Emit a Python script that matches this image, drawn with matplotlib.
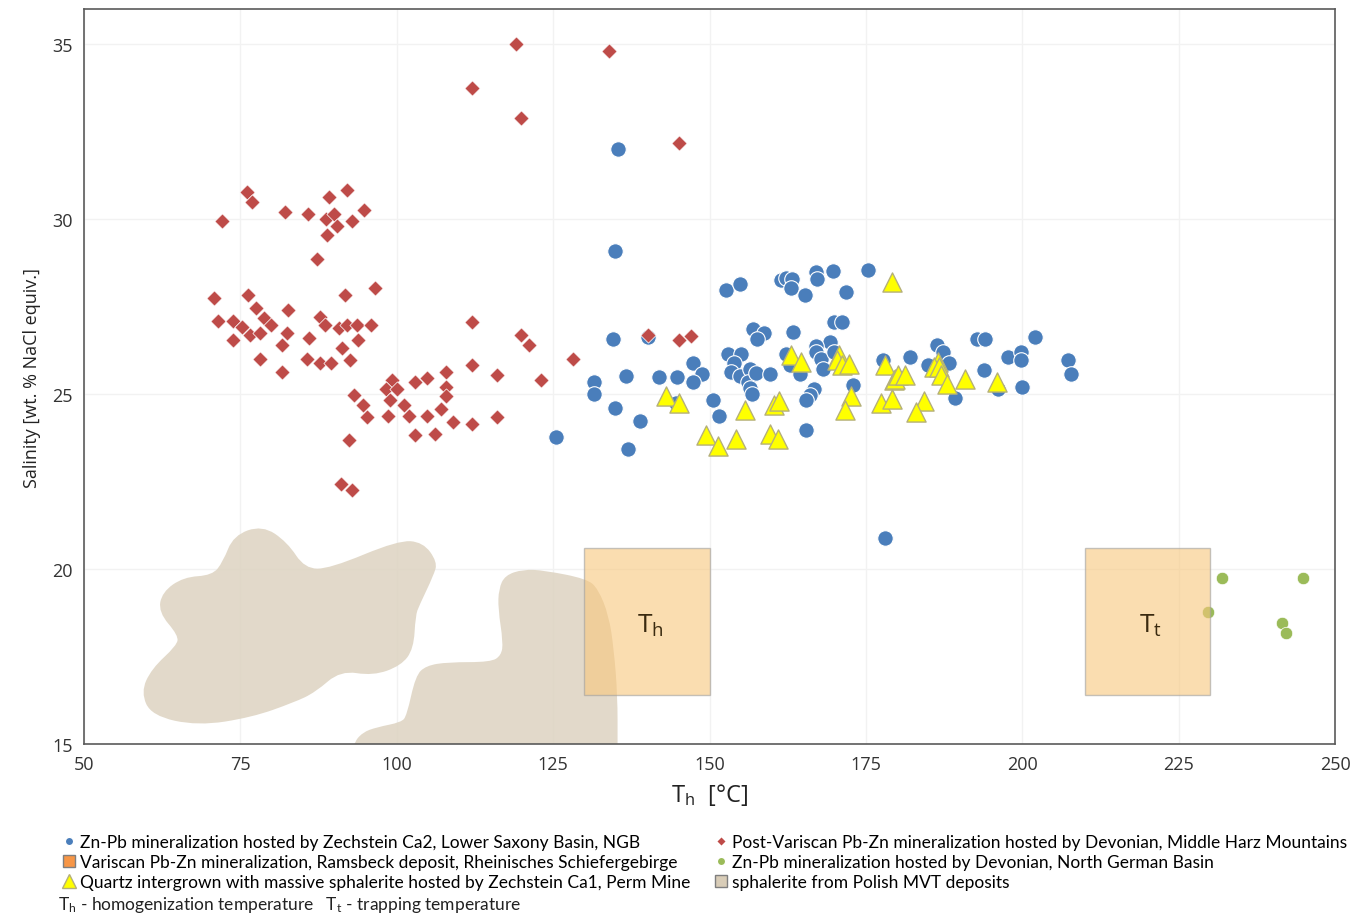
import numpy as np
import matplotlib
matplotlib.use("Agg")
import matplotlib.pyplot as plt
from matplotlib.path import Path
from matplotlib.patches import PathPatch, Rectangle
from matplotlib.lines import Line2D

plt.rcParams['font.family'] = ['Open Sans', 'DejaVu Sans']
plt.rcParams['mathtext.default'] = 'regular'

# Post-Variscan Pb-Zn, Middle Harz Mountains (Th, salinity)
harz_th = [76.0, 76.9, 72.1, 82.1, 85.8, 89.1, 92.1, 88.7, 90.0, 90.4, 92.8, 94.8, 88.8, 87.2,
           70.8, 76.3, 91.7, 96.5, 77.5, 82.6, 71.4, 73.9, 75.3, 78.8, 79.9, 87.8, 88.6, 90.7,
           92.1, 93.7, 95.9, 76.5, 78.2, 82.5, 73.8, 86.0, 93.8, 81.7, 91.3, 78.1, 85.7, 87.8,
           89.5, 92.6, 81.7, 112.0, 119.9, 121.1, 128.1, 112.0, 116.1, 123.1, 93.1, 94.6, 95.3,
           99.2, 98.3, 100.0, 99.0, 101.1, 102.9, 104.9, 107.9, 107.9, 107.9, 107.0, 98.6, 102.0,
           104.9, 109.0, 112.0, 116.1, 102.9, 106.1, 92.3, 91.1, 92.8, 119.0, 134.0, 112.0,
           119.9, 145.1, 140.1, 145.1, 147.1]
harz_sal = [30.77, 30.50, 29.94, 30.21, 30.15, 30.63, 30.82, 30.00, 30.15, 29.80, 29.94, 30.27,
            29.53, 28.86, 27.73, 27.83, 27.83, 28.03, 27.47, 27.40, 27.10, 27.10, 26.91, 27.17,
            26.98, 27.19, 26.98, 26.90, 26.98, 26.98, 26.98, 26.68, 26.75, 26.75, 26.53, 26.61,
            26.53, 26.41, 26.31, 25.99, 25.99, 25.89, 25.89, 25.96, 25.62, 27.05, 26.70, 26.41,
            25.99, 25.82, 25.55, 25.39, 24.96, 24.70, 24.35, 25.39, 25.13, 25.13, 24.84, 24.70,
            25.33, 25.46, 25.62, 25.20, 24.94, 24.58, 24.37, 24.37, 24.37, 24.20, 24.13, 24.33,
            23.82, 23.87, 23.68, 22.44, 22.27, 34.99, 34.81, 33.74, 32.88, 32.18, 26.68, 26.53,
            26.67]

# Zn-Pb hosted by Zechstein Ca2, Lower Saxony Basin
lsb_th = [140.2, 135.4, 134.9, 134.5, 152.7, 154.9, 161.5, 162.3, 163.2, 163.1, 167.0, 167.2,
          169.7, 165.3, 171.8, 175.4, 157.0, 158.7, 157.6, 163.4, 169.9, 171.1, 169.2, 167.0,
          167.1, 167.8, 168.1, 169.9, 162.3, 162.8, 164.4, 153.0, 155.1, 153.9, 153.5, 154.8,
          156.4, 156.2, 157.5, 156.5, 156.8, 159.6, 147.4, 148.8, 147.4, 144.8, 141.9, 136.7,
          131.5, 131.5, 134.9, 138.9, 137.0, 125.4, 144.6, 150.5, 151.5, 165.5, 166.7, 166.0,
          165.5, 172.9, 177.8, 192.7, 194.0, 202.1, 186.4, 187.3, 182.0, 184.9, 188.3, 197.7,
          199.8, 199.8, 207.3, 207.8, 193.8, 200.0, 196.1, 189.2, 178.1]
lsb_sal = [26.62, 32.00, 29.09, 26.56, 27.98, 28.15, 28.25, 28.31, 28.28, 28.04, 28.48, 28.28,
           28.51, 27.82, 27.91, 28.53, 26.85, 26.75, 26.56, 26.76, 27.05, 27.05, 26.50, 26.36,
           26.19, 25.99, 25.71, 26.20, 26.13, 25.84, 25.57, 26.15, 26.13, 25.90, 25.63, 25.51,
           25.72, 25.34, 25.59, 25.16, 25.01, 25.57, 25.90, 25.57, 25.34, 25.48, 25.48, 25.52,
           25.34, 24.99, 24.59, 24.22, 23.43, 23.76, 24.74, 24.84, 24.38, 23.96, 25.13, 24.98,
           24.84, 25.27, 25.96, 26.56, 26.56, 26.63, 26.41, 26.20, 26.07, 25.84, 25.90, 26.07,
           26.20, 25.96, 25.96, 25.57, 25.70, 25.21, 25.13, 24.90, 20.89]

# Quartz intergrown with massive sphalerite, Zechstein Ca1, Perm Mine
perm_th = [163.0, 164.6, 143.0, 145.1, 149.5, 151.4, 154.2, 155.6, 159.7, 161.0, 160.3, 161.1,
           170.7, 170.3, 171.2, 172.3, 172.6, 171.7, 179.1, 178.0, 179.5, 177.4, 179.2, 179.6,
           180.2, 181.3, 184.3, 183.0, 186.5, 185.9, 186.7, 187.0, 187.9, 190.9, 195.9]
perm_sal = [26.11, 25.91, 24.95, 24.74, 23.84, 23.51, 23.72, 24.54, 23.86, 23.71, 24.70, 24.80,
            26.11, 25.96, 25.82, 25.86, 24.93, 24.53, 28.20, 25.84, 25.40, 24.75, 24.86, 25.44,
            25.53, 25.53, 24.79, 24.48, 25.92, 25.77, 25.77, 25.53, 25.30, 25.42, 25.34]

# Zn-Pb hosted by Devonian, North German Basin
ngb_th = [232.0, 244.8, 229.7, 241.5, 242.1]
ngb_sal = [19.73, 19.73, 18.78, 18.46, 18.18]

# Polish MVT sphalerite fields (outlines)
mvt1_th = [78.5, 82.5, 85.3, 89.3, 100.2, 104.2, 106.5, 105.9, 103.6, 103.0, 102.7, 100.7,
           96.2, 91.0, 87.0, 83.6, 76.8, 68.2, 60.8, 59.1, 60.8, 64.8, 65.1, 61.9, 62.5, 65.9,
           70.5, 72.2, 73.9]
mvt1_sal = [21.25, 20.77, 20.01, 20.01, 20.82, 20.77, 20.20, 19.82, 18.96, 18.67, 17.72, 17.24,
            16.95, 17.10, 16.48, 16.19, 15.76, 15.52, 15.81, 16.48, 17.15, 17.81, 18.10, 18.77,
            19.34, 19.77, 19.82, 20.20, 20.96]
mvt2_th = [92.0, 93.0, 94.5, 96.8, 100.7, 101.6, 103.0, 104.7, 108.2, 115.0, 116.7, 117.0,
           116.2, 116.3, 117.3, 120.2, 123.6, 130.4, 132.2, 133.9, 134.7, 135.3, 135.3, 135.3]
mvt2_sal = [14.3, 15.0, 15.33, 15.48, 15.62, 15.81, 16.95, 17.24, 17.34, 17.34, 17.53, 17.91,
            18.86, 19.43, 19.82, 19.99, 19.96, 19.72, 19.43, 18.67, 17.72, 16.38, 15.0, 14.3]

# Th / Tt ranges (x0, x1, y0, y1)
th_box = (130, 150, 16.4, 20.6)
tt_box = (210, 230, 16.4, 20.6)


def smooth_blob(xs, ys, closed=True):
    # quadratic B-spline through the midpoints of the outline points
    pts = np.column_stack([xs, ys])
    if not closed:
        verts = [pts[0]]
        codes = [Path.MOVETO]
        for i in range(1, len(pts) - 1):
            mid = (pts[i] + pts[i + 1]) / 2
            verts += [pts[i], mid]
            codes += [Path.CURVE3, Path.CURVE3]
        verts.append(pts[-1])
        codes.append(Path.LINETO)
        verts.append(pts[0])
        codes.append(Path.CLOSEPOLY)
        return Path(verts, codes)
    n = len(pts)
    mids = (pts + np.roll(pts, -1, axis=0)) / 2
    verts = [mids[-1]]
    codes = [Path.MOVETO]
    for i in range(n):
        verts += [pts[i], mids[i]]
        codes += [Path.CURVE3, Path.CURVE3]
    verts.append(mids[-1])
    codes.append(Path.CLOSEPOLY)
    return Path(verts, codes)


fig = plt.figure(figsize=(13.7, 9.2), dpi=100)
ax = fig.add_axes([0.0613, 0.1902, 0.9132, 0.7989])

blob_color = '#DDD3C1'
for p in (smooth_blob(mvt1_th, mvt1_sal), smooth_blob(mvt2_th, mvt2_sal, closed=False)):
    ax.add_patch(PathPatch(p, facecolor=blob_color, edgecolor='none', alpha=0.85, zorder=1))

ax.scatter(lsb_th, lsb_sal, s=125, c='#4A7EBB', edgecolors='white', linewidths=0.8, zorder=3)
ax.scatter(harz_th, harz_sal, s=60, marker='D', c='#BE4B48', edgecolors='white',
           linewidths=0.5, zorder=4)
ax.scatter(ngb_th, ngb_sal, s=80, c='#9BBB59', edgecolors='white', linewidths=0.5, zorder=3)
ax.scatter(perm_th, perm_sal, s=190, marker='^', c='#FFFF00', edgecolors='#B5B07A',
           linewidths=1.0, zorder=5)

for (x0, x1, y0, y1), lab in ((th_box, 'T$_h$'), (tt_box, 'T$_t$')):
    ax.add_patch(Rectangle((x0, y0), x1 - x0, y1 - y0, facecolor='#F8C77C', alpha=0.6,
                           edgecolor='#A0A0A0', linewidth=1.0, zorder=6))
    ax.text((x0 + x1) / 2 + 0.5, (y0 + y1) / 2 - 0.1, lab, fontsize=19, ha='center',
            va='center', color='#3A2A10', zorder=7)

ax.set_xlim(50, 250)
ax.set_ylim(15, 36)
ax.set_xticks(np.arange(50, 251, 25))
ax.set_yticks(np.arange(15, 36, 5))
ax.grid(True, color='#F2F2F2', linewidth=1.0, zorder=0)
ax.set_axisbelow(True)
for sp in ax.spines.values():
    sp.set_color('#5A5A5A')
    sp.set_linewidth(1.2)
ax.tick_params(length=0, labelsize=13, pad=8, colors='#333333')
ax.set_xlabel('T$_h$  [°C]', fontsize=17, labelpad=6, color='#222222')
ax.set_ylabel('Salinity [wt. % NaCl equiv.]', fontsize=13, labelpad=8, color='#222222')

handles = [
    Line2D([], [], ls='none', marker='o', ms=6, mfc='#4A7EBB', mec='white'),
    Line2D([], [], ls='none', marker='s', ms=8, mfc='#F79646', mec='#7F7F7F'),
    Line2D([], [], ls='none', marker='^', ms=10, mfc='#FFFF00', mec='#B5B07A'),
    Line2D([], [], ls='none', marker='D', ms=5, mfc='#BE4B48', mec='white'),
    Line2D([], [], ls='none', marker='o', ms=6, mfc='#9BBB59', mec='white'),
    Line2D([], [], ls='none', marker='s', ms=8, mfc='#D9CDB8', mec='#7F7F7F'),
]
labels = [
    'Zn-Pb mineralization hosted by Zechstein Ca2, Lower Saxony Basin, NGB',
    'Variscan Pb-Zn mineralization, Ramsbeck deposit, Rheinisches Schiefergebirge',
    'Quartz intergrown with massive sphalerite hosted by Zechstein Ca1, Perm Mine',
    'Post-Variscan Pb-Zn mineralization hosted by Devonian, Middle Harz Mountains',
    'Zn-Pb mineralization hosted by Devonian, North German Basin',
    'sphalerite from Polish MVT deposits',
]
leg_font = {'family': ['Lato', 'DejaVu Sans'], 'size': 12.5}
fig.legend(handles, labels, ncol=2, loc='upper left', bbox_to_anchor=(0.037, 0.1),
           frameon=False, prop=leg_font, handletextpad=0.0, columnspacing=1.1,
           labelspacing=0.22, handlelength=1.3, borderaxespad=0)
fig.text(0.042, 0.0163, 'T$_h$ - homogenization temperature   T$_t$ - trapping temperature',
         fontdict=leg_font, color='#222222', va='center')

fig.savefig('out.png', dpi=100)
